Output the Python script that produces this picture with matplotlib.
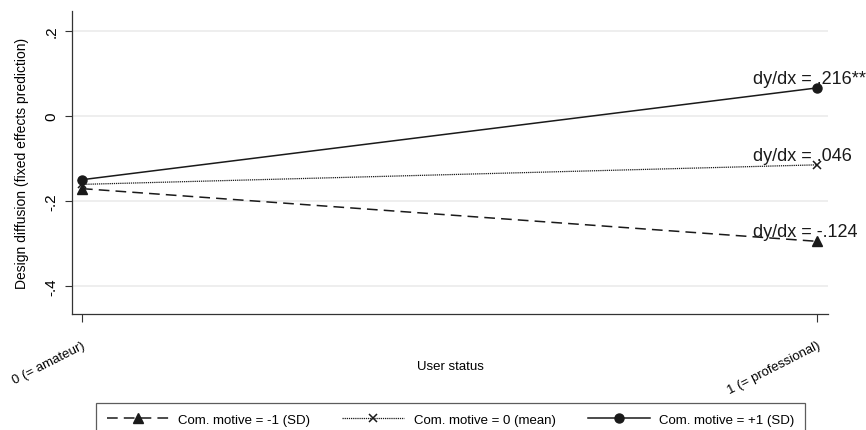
import matplotlib
matplotlib.use("Agg")
import matplotlib.pyplot as plt

plt.rcParams['font.family'] = ['Liberation Sans', 'DejaVu Sans']

x_labels = ["0 (= amateur)", "1 (= professional)"]
x_vals = [0, 1]
low = [-0.171, -0.295]
mean = [-0.161, -0.115]
high = [-0.150, 0.066]
annots = ["dy/dx = -.124", "dy/dx = .046", "dy/dx = .216**"]
series_labels = ["Com. motive = -1 (SD)", "Com. motive = 0 (mean)", "Com. motive = +1 (SD)"]
yticks = [-0.4, -0.2, 0, 0.2]
ytick_labels = ["-.4", "-.2", "0", ".2"]

fig = plt.figure(figsize=(8.66, 4.31), dpi=100)
ax = fig.add_axes([72/866, 1-315/431, (828-72)/866, (315-12)/431])

for y in yticks:
    ax.axhline(y, color='#ebebeb', lw=1.2, zorder=0)

c = '#1a1a1a'
l1, = ax.plot(x_vals, low, color=c, ls=(0, (7, 4)), lw=1.1, marker='^', ms=6.5, label=series_labels[0])
l2, = ax.plot(x_vals, mean, color=c, ls=(0, (1, 0.7)), lw=0.9, marker='x', ms=6, mew=1.1, label=series_labels[1])
l3, = ax.plot(x_vals, high, color=c, ls='-', lw=1.1, marker='o', ms=6.5, label=series_labels[2])

for val, txt in zip([low[1], mean[1], high[1]], annots):
    ax.annotate(txt, (1, val), xytext=(-46, 3.5), textcoords='offset points',
                fontsize=13, color=c, va='baseline', ha='left', annotation_clip=False)

ax.set_xlim(-0.0136, 1.015)
ax.set_ylim(-0.466, 0.247)
ax.set_yticks(yticks)
ax.set_yticklabels(ytick_labels, rotation=90, va='center', fontsize=11)
ax.set_xticks(x_vals)
ax.set_xticklabels(x_labels, rotation=27, ha='right', rotation_mode='anchor', fontsize=9.5)
ax.tick_params(axis='x', direction='out', length=6, color='#333333', width=0.8, pad=12)
ax.tick_params(axis='y', direction='out', length=5, color='#333333', width=0.8, pad=4.5)
for s in ['top', 'right']:
    ax.spines[s].set_visible(False)
for s in ['left', 'bottom']:
    ax.spines[s].set_color('#333333')
    ax.spines[s].set_linewidth(0.9)

ax.set_xlabel("User status", fontsize=9.5)
ax.xaxis.set_label_coords(0.5, -0.152)
ax.set_ylabel("Design diffusion (fixed effects prediction)", fontsize=10)
ax.yaxis.set_label_coords(-0.057, 0.5)

leg = fig.legend(handles=[l1, l2, l3], loc='upper left', ncol=3,
                 bbox_to_anchor=(96/866, 1-404/431),
                 fontsize=9.5, handlelength=4.7, frameon=True, fancybox=False,
                 edgecolor='#333333', borderaxespad=0, columnspacing=2.4,
                 handletextpad=0.75, borderpad=0.8)
leg.get_frame().set_linewidth(0.9)

fig.savefig("out.png", dpi=100)
